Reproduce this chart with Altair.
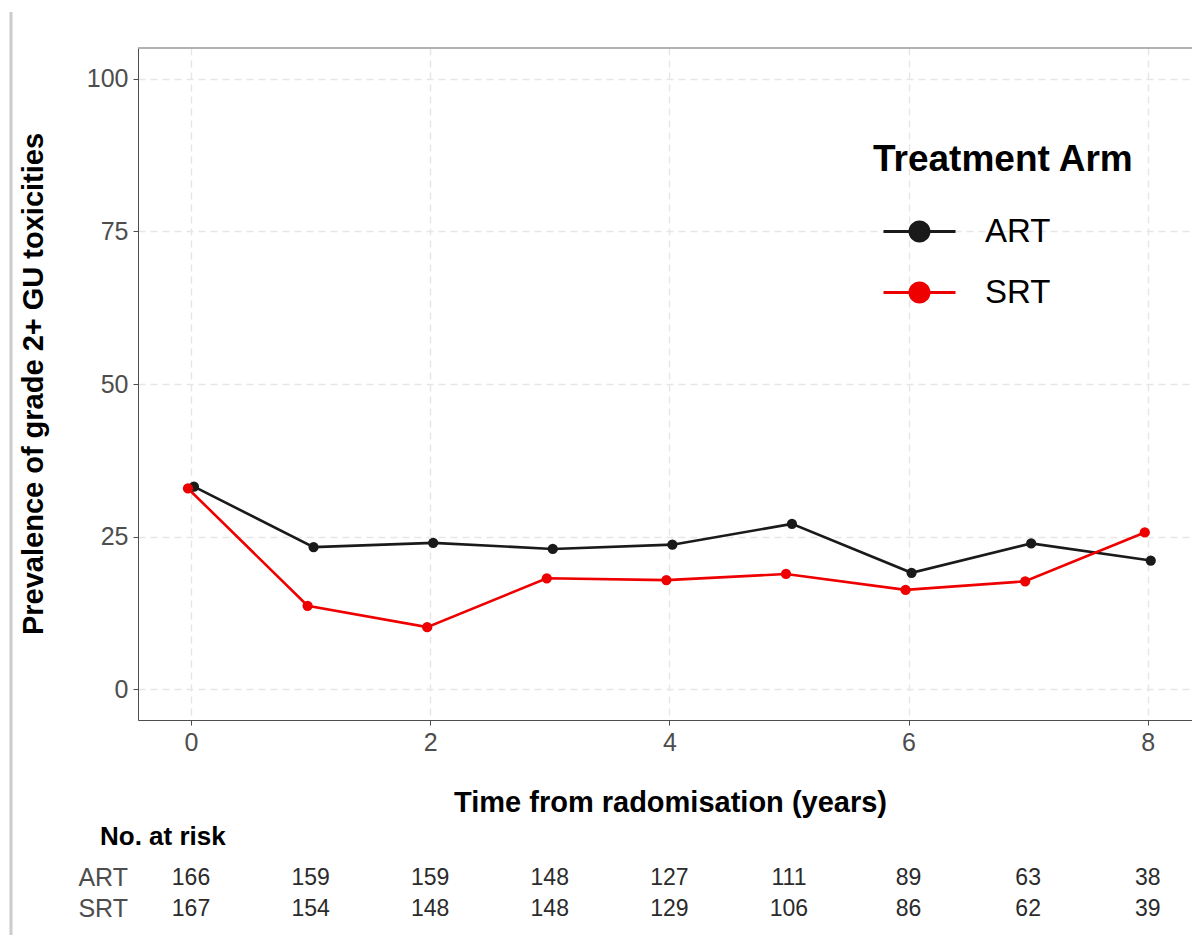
import altair as alt
import pandas as pd

# ---- data ----
years = [0, 1, 2, 3, 4, 5, 6, 7, 8]
art_prev = [33.2, 23.3, 24.0, 23.0, 23.7, 27.1, 19.1, 23.9, 21.1]
srt_prev = [32.9, 13.7, 10.2, 18.2, 17.9, 18.9, 16.3, 17.7, 25.7]
art_risk = [166, 159, 159, 148, 127, 111, 89, 63, 38]
srt_risk = [167, 154, 148, 148, 129, 106, 86, 62, 39]
arms = ["ART", "SRT"]
arm_colors = ["#1a1a1a", "#ee0000"]
x_ticks = [0, 2, 4, 6, 8]
y_ticks = [0, 25, 50, 75, 100]

FONT = "Liberation Sans"

prev = pd.DataFrame(
    {"year": years * 2, "prev": art_prev + srt_prev, "arm": ["ART"] * 9 + ["SRT"] * 9}
)
risk = pd.DataFrame(
    {"year": years * 2, "n": art_risk + srt_risk, "arm": ["ART"] * 9 + ["SRT"] * 9}
)
arm_df = pd.DataFrame({"arm": arms})
one = pd.DataFrame({"k": [0]})

xscale = alt.Scale(domain=[-0.443, 8.37], nice=False, zero=False)
yscale = alt.Scale(domain=[-5, 105], nice=False, zero=False)
cscale = alt.Scale(domain=arms, range=arm_colors)

legend_path = (
    "M-3.6,-0.16L-1,-0.16L-1,0.16L-3.6,0.16Z "
    "M1,-0.16L3.6,-0.16L3.6,0.16L1,0.16Z "
    "M-1.1,0A1.1,1.1,0,1,1,1.1,0A1.1,1.1,0,1,1,-1.1,0Z"
)

legend = alt.Legend(
    title="Treatment Arm",
    orient="none",
    legendX=735,
    legendY=94,
    titleFont=FONT,
    titleFontSize=37,
    titleFontWeight="bold",
    titleColor="#000000",
    titleLimit=600,
    titlePadding=36,
    labelFont=FONT,
    labelFontSize=33,
    labelColor="#000000",
    labelOffset=49,
    labelLimit=300,
    symbolType=legend_path,
    symbolSize=400,
    symbolStrokeWidth=0,
    symbolOffset=30,
    rowPadding=27,
)

x_axis = alt.Axis(
    values=x_ticks,
    format="d",
    title="Time from radomisation (years)",
    titleFont=FONT,
    titleFontSize=29,
    titleFontWeight="bold",
    titleColor="#000000",
    titleX=532,
    titleY=91,
    titleBaseline="alphabetic",
    labelFont=FONT,
    labelFontSize=25,
    labelColor="#4d4d4d",
    labelPadding=5,
    tickSize=5,
    tickColor="#4d4d4d",
    domainColor="#4d4d4d",
    gridColor="#e6e6e6",
    gridDash=[7, 5],
    gridWidth=1.4,
)
y_axis = alt.Axis(
    values=y_ticks,
    format="d",
    title="Prevalence of grade 2+ GU toxicities",
    titleFont=FONT,
    titleFontSize=29,
    titleFontWeight="bold",
    titleColor="#000000",
    titleAngle=270,
    titleX=-96,
    titleY=335.5,
    titleBaseline="alphabetic",
    labelFont=FONT,
    labelFontSize=25,
    labelColor="#4d4d4d",
    labelPadding=5,
    tickSize=5,
    tickColor="#4d4d4d",
    domainColor="#4d4d4d",
    gridColor="#e6e6e6",
    gridDash=[7, 5],
    gridWidth=1.4,
)

base = alt.Chart(prev).transform_calculate(
    xd="datum.year + (datum.arm == 'ART' ? 0.025 : -0.025)"
)

lines = base.mark_line(strokeWidth=2.6).encode(
    x=alt.X("xd:Q", scale=xscale, axis=x_axis),
    y=alt.Y("prev:Q", scale=yscale, axis=y_axis),
    color=alt.Color("arm:N", scale=cscale, legend=legend),
)
points = base.mark_point(filled=True, size=105, opacity=1).encode(
    x=alt.X("xd:Q", scale=xscale),
    y=alt.Y("prev:Q", scale=yscale),
    color=alt.Color("arm:N", scale=cscale, legend=legend),
)

top_border = alt.Chart(one).mark_rule(color="#999999", strokeWidth=1.5).encode(
    x=alt.value(0), x2=alt.value(1054), y=alt.value(0)
)
page_line = alt.Chart(one).mark_rule(color="#cccccc", strokeWidth=3).encode(
    x=alt.value(-127), y=alt.value(-36), y2=alt.value(887)
)

risk_art = (
    alt.Chart(risk)
    .transform_filter("datum.arm == 'ART'")
    .mark_text(font=FONT, fontSize=23, color="#2b2b2b", baseline="middle", align="center")
    .encode(x=alt.X("year:Q", scale=xscale), y=alt.value(830), text="n:Q")
)
risk_srt = (
    alt.Chart(risk)
    .transform_filter("datum.arm == 'SRT'")
    .mark_text(font=FONT, fontSize=23, color="#2b2b2b", baseline="middle", align="center")
    .encode(x=alt.X("year:Q", scale=xscale), y=alt.value(861), text="n:Q")
)
row_art = (
    alt.Chart(arm_df)
    .transform_filter("datum.arm == 'ART'")
    .mark_text(font=FONT, fontSize=25, color="#4d4d4d", baseline="middle", align="right")
    .encode(x=alt.value(-10), y=alt.value(830), text="arm:N")
)
row_srt = (
    alt.Chart(arm_df)
    .transform_filter("datum.arm == 'SRT'")
    .mark_text(font=FONT, fontSize=25, color="#4d4d4d", baseline="middle", align="right")
    .encode(x=alt.value(-10), y=alt.value(861), text="arm:N")
)
risk_title = (
    alt.Chart(one)
    .mark_text(
        font=FONT, fontSize=26, fontWeight="bold", color="#000000",
        baseline="alphabetic", align="left", text="No. at risk",
    )
    .encode(x=alt.value(-38), y=alt.value(797))
)

chart = (
    alt.layer(
        page_line, top_border, lines, points,
        risk_art, risk_srt, row_art, row_srt, risk_title,
    )
    .properties(
        width=1054,
        height=672,
        autosize=alt.AutoSizeParams(type="none"),
        padding={"left": 138, "top": 48, "right": 0, "bottom": 215},
        background="#ffffff",
    )
    .configure_view(stroke=None)
)

chart.save("out.html", embed_options={"renderer": "svg", "actions": False})
